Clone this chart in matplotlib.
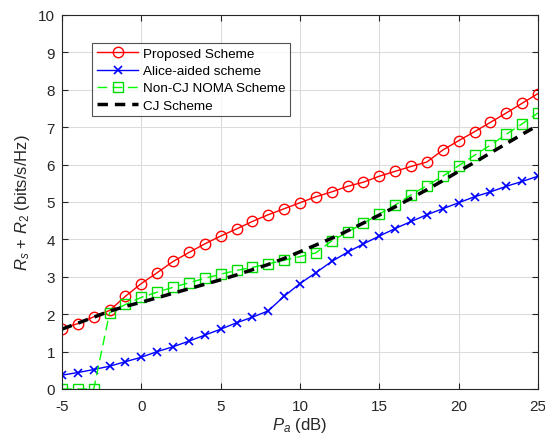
import numpy as np
import matplotlib
matplotlib.use("Agg")
import matplotlib.pyplot as plt

plt.rcParams['font.family'] = ['Liberation Sans', 'DejaVu Sans']
plt.rcParams['mathtext.fontset'] = 'custom'
plt.rcParams['mathtext.rm'] = 'Liberation Sans'
plt.rcParams['mathtext.it'] = 'Liberation Sans:italic'
plt.rcParams['axes.unicode_minus'] = False

pa_db = list(range(-5, 26))

proposed = [1.61, 1.75, 1.93, 2.10, 2.48, 2.82, 3.11, 3.41, 3.65, 3.88, 4.09,
            4.28, 4.48, 4.66, 4.82, 4.98, 5.14, 5.27, 5.42, 5.53, 5.69,
            5.82, 5.95, 6.07, 6.39, 6.64, 6.88, 7.13, 7.38, 7.64, 7.90]

alice_aided = [0.37, 0.44, 0.52, 0.61, 0.73, 0.85, 1.00, 1.13, 1.28, 1.44, 1.60,
               1.77, 1.92, 2.09, 2.48, 2.82, 3.11, 3.41, 3.66, 3.88, 4.09,
               4.29, 4.48, 4.66, 4.82, 4.98, 5.14, 5.27, 5.42, 5.55, 5.69]

non_cj_noma = [0.0, 0.0, 0.0, 2.04, 2.26, 2.45, 2.59, 2.72, 2.84, 2.96, 3.07,
               3.17, 3.25, 3.35, 3.44, 3.54, 3.64, 3.96, 4.20, 4.43, 4.68,
               4.92, 5.19, 5.44, 5.69, 5.97, 6.25, 6.52, 6.81, 7.09, 7.38]

cj_scheme = [1.60, 1.76, 1.92, 2.08, 2.21, 2.32, 2.44, 2.56, 2.68, 2.80, 2.92,
             3.05, 3.19, 3.33, 3.49, 3.67, 3.85, 4.03, 4.23, 4.44, 4.65,
             4.87, 5.10, 5.33, 5.57, 5.82, 6.06, 6.31, 6.56, 6.81, 7.05]

labels = ["Proposed Scheme", "Alice-aided scheme", "Non-CJ NOMA Scheme", "CJ Scheme"]

fig = plt.figure(figsize=(5.45, 4.39), dpi=100)
ax = fig.add_axes([62/545, 1 - 390/439, (538-62)/545, (390-16)/439])

ax.plot(pa_db, proposed, color='#ff0000', lw=1.0, marker='o', ms=7.5,
        mfc='none', mec='#ff0000', mew=1.0, label=labels[0])
ax.plot(pa_db, alice_aided, color='#0000ff', lw=1.0, marker='x', ms=6,
        mew=1.2, label=labels[1])
ax.plot(pa_db, non_cj_noma, color='#00ff00', lw=1.0, ls=(0, (7, 4)), marker='s', ms=6.5,
        mfc='none', mec='#00dd00', mew=1.0, label=labels[2])
ax.plot(pa_db, cj_scheme, color='black', lw=2.5, ls=(0, (3, 2)), label=labels[3])

ax.set_xlim(-5, 25)
ax.set_ylim(0, 10)
ax.set_xticks([-5, 0, 5, 10, 15, 20, 25])
ax.set_yticks(range(0, 11))
ax.grid(True, color='#dcdcdc', lw=0.8)
ax.set_axisbelow(True)
ax.tick_params(direction='in', top=True, right=True, labelsize=11,
               colors='#262626', length=4, width=0.8)
ax.tick_params(axis='x', pad=7)
ax.tick_params(axis='y', pad=5)
for s in ax.spines.values():
    s.set_color('#262626')
    s.set_linewidth(0.8)

ax.set_xlabel(r'$P_a$ (dB)', fontsize=12, color='#262626', labelpad=2)
ax.set_ylabel(r'$R_s$ + $R_2$ (bits/s/Hz)', fontsize=12, color='#262626', labelpad=4)

leg = ax.legend(loc='upper left', bbox_to_anchor=(0.063, 0.925), fontsize=9.7,
                frameon=True, fancybox=False, edgecolor='#262626',
                handlelength=3.1, borderpad=0.35, labelspacing=0.35,
                handletextpad=0.3, borderaxespad=0)
leg.get_frame().set_linewidth(0.8)

fig.savefig('out.png', dpi=100)
